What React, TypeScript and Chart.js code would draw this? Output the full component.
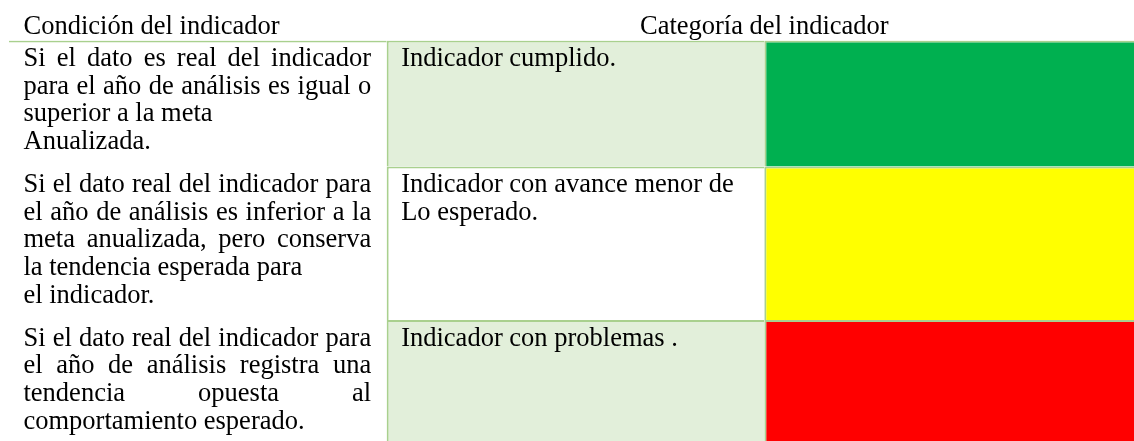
import React, { useEffect, useRef } from "react";
import { Chart, registerables } from "chart.js";

Chart.register(...registerables);

// ---- Data ----
const headerLabels = ["Condición del indicador", "Categoría del indicador"];
const columnKeys = ["condicion", "descripcion", "color"];

// Condition text per row: paragraphs, each a list of lines (as laid out in the reference)
const conditionRow1 = [
  ["Si el dato es real del indicador", "para el año de análisis es igual o", "superior a la meta"],
  ["Anualizada."],
];
const conditionRow2 = [
  [
    "Si el dato real del indicador para",
    "el año de análisis es inferior a la",
    "meta anualizada, pero conserva",
    "la tendencia esperada para",
  ],
  ["el indicador."],
];
const conditionRow3 = [
  [
    "Si el dato real del indicador para",
    "el año de análisis registra una",
    "tendencia opuesta al",
    "comportamiento esperado.",
  ],
];
const conditionRows = [conditionRow1, conditionRow2, conditionRow3];

const categoryTexts = [
  ["Indicador cumplido."],
  ["Indicador con avance menor de", "Lo esperado."],
  ["Indicador con problemas ."],
];
const descriptionFills = ["#E2EFDA", "#FFFFFF", "#E2EFDA"];
const categoryColors = ["#00B050", "#FFFF00", "#FF0000"];

// ---- Styles ----
const ROW_PAD = 0.55; // extra height per row, in line units
const BORDER = "#A9D08E";
const BW = 2;
const FONT = '26.5px "Liberation Serif", "Times New Roman", serif';
const PAD_LEFT = 14.5;
const PAD_RIGHT = 15.5;

const lineCounts = conditionRows.map((p) => p.reduce((s, para) => s + para.length, 0));
const rowHeights = lineCounts.map((n) => n + ROW_PAD);
const totalHeight = rowHeights.reduce((a, b) => a + b, 0);

export default function App() {
  const ref = useRef<HTMLCanvasElement | null>(null);

  useEffect(() => {
    document.documentElement.style.overflow = "hidden";
    document.body.style.margin = "0";
    document.body.style.overflow = "hidden";
    const canvas = ref.current!;

    const drawJustified = (ctx: CanvasRenderingContext2D, line: string, x: number, y: number, w: number) => {
      const words = line.split(" ").filter((s) => s.length);
      if (words.length < 2) {
        ctx.fillText(line, x, y);
        return;
      }
      const widths = words.map((wd) => ctx.measureText(wd).width);
      const sum = widths.reduce((a, b) => a + b, 0);
      const gap = (w - sum) / (words.length - 1);
      let cx = x;
      words.forEach((wd, i) => {
        ctx.fillText(wd, cx, y);
        cx += widths[i] + gap;
      });
    };

    const textPlugin = {
      id: "tableText",
      afterDatasetsDraw(chart: any) {
        const { ctx, scales } = chart;
        const y = scales.y;
        const unit = Math.abs(y.getPixelForValue(1) - y.getPixelForValue(0));
        ctx.save();
        ctx.font = FONT;
        ctx.fillStyle = "#000000";
        ctx.textBaseline = "alphabetic";

        const m0 = chart.getDatasetMeta(0);
        const c0: any = m0.data[0];
        const c1: any = m0.data[1];
        const c2: any = m0.data[2];
        const headerBase = y.getPixelForValue(0) - 0.22 * unit;
        ctx.textAlign = "left";
        ctx.fillText(headerLabels[0], c0.x - c0.width / 2 + PAD_LEFT, headerBase);
        ctx.textAlign = "center";
        const mid = (c1.x - c1.width / 2 + (c2.x + c2.width / 2)) / 2;
        ctx.fillText(headerLabels[1], mid, headerBase);
        ctx.textAlign = "left";

        conditionRows.forEach((paras, r) => {
          const meta = chart.getDatasetMeta(r);
          const e0: any = meta.data[0];
          const e1: any = meta.data[1];
          const top0 = Math.min(e0.y, e0.base);
          const left0 = e0.x - e0.width / 2 + PAD_LEFT;
          const w0 = e0.width - PAD_LEFT - PAD_RIGHT;
          let li = 0;
          paras.forEach((para) => {
            para.forEach((line, k) => {
              const by = top0 + 0.92 * unit + li * unit;
              if (k < para.length - 1) drawJustified(ctx, line, left0, by, w0);
              else ctx.fillText(line, left0, by);
              li++;
            });
          });
          const top1 = Math.min(e1.y, e1.base);
          const left1 = e1.x - e1.width / 2 + PAD_LEFT;
          categoryTexts[r].forEach((line, k) => {
            ctx.fillText(line, left1, top1 + 0.92 * unit + k * unit);
          });
        });
        ctx.restore();
      },
    };

    const chart = new Chart(canvas, {
      type: "bar",
      data: {
        labels: columnKeys,
        datasets: rowHeights.map((h, r) => ({
          label: "row" + (r + 1),
          data: columnKeys.map(() => h),
          backgroundColor: columnKeys.map((_, c) =>
            c === 0 ? "#FFFFFF" : c === 1 ? descriptionFills[r] : categoryColors[r]
          ),
          borderColor: BORDER,
          borderWidth: columnKeys.map((_, c) =>
            c === 0
              ? { top: r === 0 ? BW : 0, left: 0, right: 0, bottom: 0 }
              : { top: BW, left: BW, right: 0, bottom: 0 }
          ) as any,
          borderSkipped: false,
          inflateAmount: 0,
          barPercentage: 1,
          categoryPercentage: 1,
        })),
      },
      options: {
        responsive: false,
        animation: false,
        devicePixelRatio: 1,
        layout: { padding: { top: 40.5, left: 9, right: 0, bottom: 0 } },
        plugins: { legend: { display: false }, tooltip: { enabled: false } },
        scales: {
          x: { stacked: true, display: false, grid: { display: false } },
          y: {
            stacked: true,
            display: false,
            reverse: true,
            min: 0,
            max: totalHeight,
            grid: { display: false },
          },
        },
      },
      plugins: [textPlugin],
    } as any);

    return () => chart.destroy();
  }, []);

  return (
    <div style={{ width: 1142, height: 446, overflow: "hidden" }}>
      <canvas ref={ref} width={1142} height={446} style={{ display: "block" }} />
    </div>
  );
}
